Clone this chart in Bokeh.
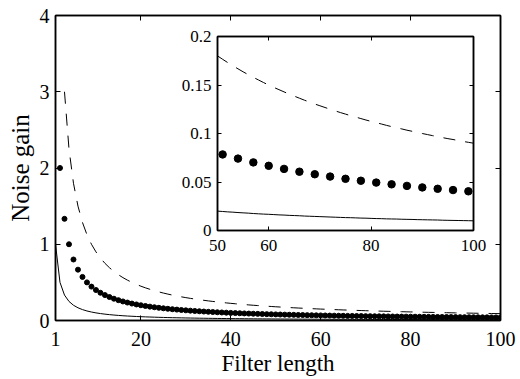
from bokeh.plotting import figure
from bokeh.models import FixedTicker, LinearAxis, Range1d
from bokeh.layouts import column
from bokeh.embed import file_html
from bokeh.resources import INLINE

FONT = "Liberation Serif"

# ---- data ----
solid_x = list(range(1, 101))
solid_y = [1.0, 0.5, 0.3333, 0.25, 0.2, 0.1667, 0.1429, 0.125, 0.1111, 0.1,
           0.0909, 0.0833, 0.0769, 0.0714, 0.0667, 0.0625, 0.0588, 0.0556, 0.0526, 0.05,
           0.0476, 0.0455, 0.0435, 0.0417, 0.04, 0.0385, 0.037, 0.0357, 0.0345, 0.0333,
           0.0323, 0.0313, 0.0303, 0.0294, 0.0286, 0.0278, 0.027, 0.0263, 0.0256, 0.025,
           0.0244, 0.0238, 0.0233, 0.0227, 0.0222, 0.0217, 0.0213, 0.0208, 0.0204, 0.02,
           0.0196, 0.0192, 0.0189, 0.0185, 0.0182, 0.0179, 0.0175, 0.0172, 0.0169, 0.0167,
           0.0164, 0.0161, 0.0159, 0.0156, 0.0154, 0.0152, 0.0149, 0.0147, 0.0145, 0.0143,
           0.0141, 0.0139, 0.0137, 0.0135, 0.0133, 0.0132, 0.013, 0.0128, 0.0127, 0.0125,
           0.0123, 0.0122, 0.012, 0.0119, 0.0118, 0.0116, 0.0115, 0.0114, 0.0112, 0.0111,
           0.011, 0.0109, 0.0108, 0.0106, 0.0105, 0.0104, 0.0103, 0.0102, 0.0101, 0.01]

dot_x = list(range(2, 101))
dot_y = [2.0, 1.3333, 1.0, 0.8, 0.6667, 0.5714, 0.5, 0.4444, 0.4,
         0.3636, 0.3333, 0.3077, 0.2857, 0.2667, 0.25, 0.2353, 0.2222, 0.2105, 0.2,
         0.1905, 0.1818, 0.1739, 0.1667, 0.16, 0.1538, 0.1481, 0.1429, 0.1379, 0.1333,
         0.129, 0.125, 0.1212, 0.1176, 0.1143, 0.1111, 0.1081, 0.1053, 0.1026, 0.1,
         0.0976, 0.0952, 0.093, 0.0909, 0.0889, 0.087, 0.0851, 0.0833, 0.0816, 0.08,
         0.0784, 0.0769, 0.0755, 0.0741, 0.0727, 0.0714, 0.0702, 0.069, 0.0678, 0.0667,
         0.0656, 0.0645, 0.0635, 0.0625, 0.0615, 0.0606, 0.0597, 0.0588, 0.058, 0.0571,
         0.0563, 0.0556, 0.0548, 0.0541, 0.0533, 0.0526, 0.0519, 0.0513, 0.0506, 0.05,
         0.0494, 0.0488, 0.0482, 0.0476, 0.0471, 0.0465, 0.046, 0.0455, 0.0449, 0.0444,
         0.044, 0.0435, 0.043, 0.0426, 0.0421, 0.0417, 0.0412, 0.0408, 0.0404, 0.04]

dash_x = list(range(3, 101))
dash_y = [3.0, 2.25, 1.8, 1.5, 1.2857, 1.125, 1.0, 0.9,
          0.8182, 0.75, 0.6923, 0.6429, 0.6, 0.5625, 0.5294, 0.5, 0.4737, 0.45,
          0.4286, 0.4091, 0.3913, 0.375, 0.36, 0.3462, 0.3333, 0.3214, 0.3103, 0.3,
          0.2903, 0.2813, 0.2727, 0.2647, 0.2571, 0.25, 0.2432, 0.2368, 0.2308, 0.225,
          0.2195, 0.2143, 0.2093, 0.2045, 0.2, 0.1957, 0.1915, 0.1875, 0.1837, 0.18,
          0.1765, 0.1731, 0.1698, 0.1667, 0.1636, 0.1607, 0.1579, 0.1552, 0.1525, 0.15,
          0.1475, 0.1452, 0.1429, 0.1406, 0.1385, 0.1364, 0.1343, 0.1324, 0.1304, 0.1286,
          0.1268, 0.125, 0.1233, 0.1216, 0.12, 0.1184, 0.1169, 0.1154, 0.1139, 0.1125,
          0.1111, 0.1098, 0.1084, 0.1071, 0.1059, 0.1047, 0.1034, 0.1023, 0.1011, 0.1,
          0.0989, 0.0978, 0.0968, 0.0957, 0.0947, 0.0938, 0.0928, 0.0918, 0.0909, 0.09]

inset_dot_x = [51, 54, 57, 60, 63, 66, 69, 72, 75, 78, 81, 84, 87, 90, 93, 96, 99]

x_ticks = [1, 20, 40, 60, 80, 100]
y_ticks = [0, 1, 2, 3, 4]
inset_x_ticks = [50, 60, 80, 100]
inset_y_ticks = [0, 0.05, 0.1, 0.15, 0.2]
inset_y_labels = ["0", "0.05", "0.1", "0.15", "0.2"]

x_title = "Filter length"
y_title = "Noise gain"

# derived subsets for the inset
inset_dot_y = [dot_y[dot_x.index(v)] for v in inset_dot_x]
in_solid_x = [v for v in solid_x if v >= 50]
in_solid_y = [y for v, y in zip(solid_x, solid_y) if v >= 50]
in_dash_x = [v for v in dash_x if v >= 50]
in_dash_y = [y for v, y in zip(dash_x, dash_y) if v >= 50]


def style_axis(ax, ticker, font_size, labels=True, tick_len=5):
    ax.ticker = FixedTicker(ticks=ticker)
    ax.major_tick_in = tick_len
    ax.major_tick_out = 0
    ax.minor_tick_in = 0
    ax.minor_tick_out = 0
    ax.axis_line_color = "black"
    ax.axis_line_width = 1.5
    ax.major_tick_line_color = "black"
    ax.major_tick_line_width = 1
    ax.major_label_text_font = FONT
    if labels:
        ax.major_label_text_color = "black"
        ax.major_label_text_font_size = font_size
        ax.major_label_standoff = 6
    else:
        ax.major_label_text_color = None
        ax.major_label_text_font_size = "1px"
        ax.major_label_standoff = 0


# ---- main plot ----
p = figure(width=520, height=379, x_range=Range1d(1, 100), y_range=Range1d(0, 4),
           output_backend="svg", toolbar_location=None,
           min_border_left=55, min_border_right=20, min_border_top=15, min_border_bottom=59)
p.grid.visible = False
p.outline_line_color = "black"
p.outline_line_width = 1.5
p.background_fill_color = "white"
p.border_fill_color = "white"

style_axis(p.xaxis[0], x_ticks, "20px")
style_axis(p.yaxis[0], y_ticks, "20px")
p.xaxis[0].major_label_standoff = 11
for ax in (p.xaxis[0], p.yaxis[0]):
    ax.axis_label_text_font = FONT
    ax.axis_label_text_font_style = "normal"
    ax.axis_label_text_color = "black"
p.xaxis[0].axis_label_text_font_size = "23px"
p.yaxis[0].axis_label_text_font_size = "25px"
p.xaxis[0].axis_label_standoff = 2
p.yaxis[0].axis_label_standoff = 3
p.xaxis[0].axis_label = x_title
p.yaxis[0].axis_label = y_title

top_ax = LinearAxis()
style_axis(top_ax, x_ticks, "1px", labels=False)
p.add_layout(top_ax, "above")
right_ax = LinearAxis()
style_axis(right_ax, y_ticks, "1px", labels=False)
p.add_layout(right_ax, "right")

p.line(solid_x, solid_y, line_color="black", line_width=1)
p.line(dash_x, dash_y, line_color="black", line_width=1, line_dash="12 10")
p.scatter(dot_x, dot_y, size=5, color="black")

# ---- inset ----
q = figure(width=331, height=229, x_range=Range1d(50, 100), y_range=Range1d(0, 0.2),
           output_backend="svg", toolbar_location=None,
           min_border_left=45, min_border_right=10, min_border_top=8, min_border_bottom=27)
q.styles = {"position": "absolute", "left": "162px", "top": "28px"}
q.grid.visible = False
q.outline_line_color = "black"
q.outline_line_width = 1.5
q.background_fill_color = "white"
q.border_fill_alpha = 0

style_axis(q.xaxis[0], inset_x_ticks, "17px", tick_len=4)
style_axis(q.yaxis[0], inset_y_ticks, "17px", tick_len=4)
q.xaxis[0].major_label_standoff = 9
q.yaxis[0].major_label_standoff = 6
q.yaxis[0].major_label_overrides = {t: s for t, s in zip(inset_y_ticks, inset_y_labels)}

qt = LinearAxis()
style_axis(qt, inset_x_ticks, "1px", labels=False, tick_len=4)
q.add_layout(qt, "above")
qr = LinearAxis()
style_axis(qr, inset_y_ticks, "1px", labels=False, tick_len=4)
q.add_layout(qr, "right")

q.line(in_solid_x, in_solid_y, line_color="black", line_width=1)
q.line(in_dash_x, in_dash_y, line_color="black", line_width=1, line_dash="12 10")
q.scatter(inset_dot_x, inset_dot_y, size=7.5, color="black")

layout = column(p, q, spacing=0)
open("out.html", "w").write(file_html(layout, INLINE))
